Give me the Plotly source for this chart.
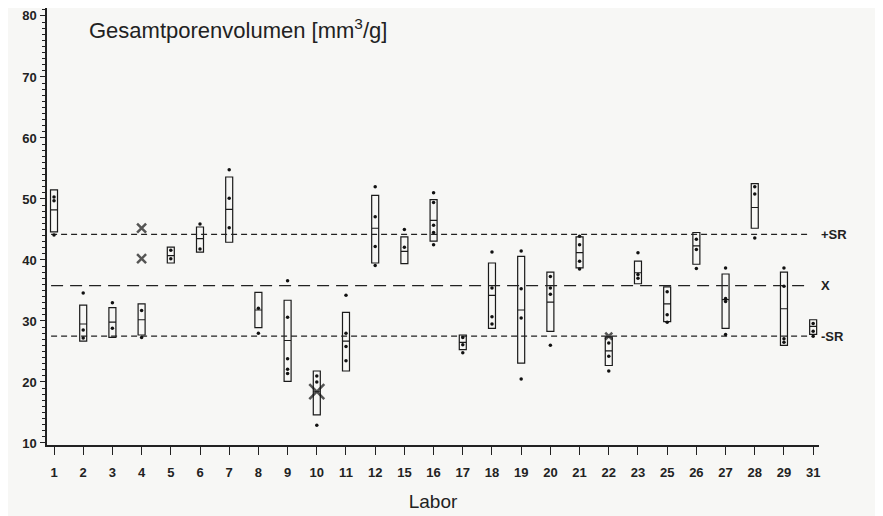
import plotly.graph_objects as go

labs = ["1","2","3","4","5","6","7","8","9","10","11","12","15","16","17","18","19","20","21","22","23","25","26","27","28","29","31"]
box_low = [44.6,26.7,27.3,27.7,39.5,41.3,42.9,28.9,20.1,14.6,21.8,39.5,39.4,43.1,25.3,28.8,23.1,28.3,38.7,22.7,36.1,29.9,39.3,28.8,45.2,26.0,27.8]
box_med = [48.2,29.5,29.8,30.2,40.7,43.5,48.3,31.8,26.8,18.4,26.7,45.2,41.4,46.5,26.5,34.2,31.8,33.1,41.2,25.1,37.9,32.8,42.3,33.5,48.6,32.0,29.1]
box_high = [51.5,32.6,32.2,32.8,42.1,45.4,53.6,34.7,33.4,21.8,31.4,50.6,43.8,49.9,27.7,39.5,40.6,38.0,43.8,27.4,39.8,35.6,44.5,37.7,52.5,38.0,30.2]

dot_lab = (["1"]*3 + ["2"]*3 + ["3"]*2 + ["4"]*2 + ["5"]*2 + ["6"]*2 + ["7"]*3 + ["8"]*2 +
           ["9"]*5 + ["10"]*3 + ["11"]*4 + ["12"]*4 + ["15"]*2 + ["16"]*5 + ["17"]*3 +
           ["18"]*4 + ["19"]*4 + ["20"]*4 + ["21"]*4 + ["22"]*3 + ["23"]*3 + ["25"]*3 +
           ["26"]*3 + ["27"]*4 + ["28"]*3 + ["29"]*4 + ["31"]*3)
dot_val = [50.3,49.7,44.1, 34.6,28.5,27.2, 33.0,28.8, 31.7,27.3, 41.6,40.2, 45.9,41.8,
           54.8,50.1,45.3, 32.1,28.0, 36.6,30.6,23.8,22.1,21.4, 21.0,20.0,12.9,
           34.2,28.0,25.8,23.5, 52.0,47.1,42.2,39.1, 45.0,42.1, 51.0,49.4,45.7,44.5,42.5,
           27.3,26.1,24.8, 41.3,35.4,30.7,29.5, 41.45,35.3,30.5,20.5, 37.3,35.4,34.4,26.0,
           43.9,42.5,39.8,38.5, 26.4,24.2,21.8, 41.2,37.6,37.0, 34.8,31.0,29.8,
           43.4,41.7,38.6, 38.7,33.7,33.2,27.8, 52.0,50.8,43.6, 38.7,35.7,27.1,26.5,
           29.6,28.3,27.5]

cross_lab = ["4", "4", "22", "10"]
cross_val = [45.2, 40.2, 27.5, 18.4]
cross_size = [9, 9, 7, 15]

mean_x = 35.8
sr_upper = 44.2
sr_lower = 27.5
ref_labels = ["+SR", "X", "-SR"]

pos = {l: i for i, l in enumerate(labs)}
xi = list(range(len(labs)))

fig = go.Figure()

# reference lines
for val, dash in [(sr_upper, "6px,4px"), (mean_x, "12px,7px"), (sr_lower, "6px,4px")]:
    fig.add_trace(go.Scatter(x=[xi[0] - 0.1, xi[-1] - 0.1], y=[val, val], mode="lines",
                             line=dict(color="#222", width=1.3, dash=dash),
                             hoverinfo="skip", showlegend=False))

fig.add_trace(go.Box(x=xi, q1=box_low, median=box_med, q3=box_high,
                     lowerfence=box_low, upperfence=box_high,
                     fillcolor="rgba(255,255,255,0)", line=dict(color="#1a1a1a", width=1.2),
                     width=0.24, whiskerwidth=0, boxpoints=False, showlegend=False))

fig.add_trace(go.Scatter(x=[pos[l] for l in dot_lab], y=dot_val, mode="markers",
                         marker=dict(color="#111", size=3.5), showlegend=False))

fig.add_trace(go.Scatter(x=[pos[l] for l in cross_lab], y=cross_val, mode="markers",
                         marker=dict(symbol="x-thin", size=cross_size, color="#111",
                                     line=dict(color="#111", width=2.5)),
                         showlegend=False))

for txt, val in zip(ref_labels, [sr_upper, mean_x, sr_lower]):
    fig.add_annotation(x=1.0, xref="paper", y=val, yref="y", text=txt, showarrow=False,
                       xanchor="left", xshift=0,
                       font=dict(size=13, color="#222", family="Liberation Sans", weight="bold"))

fig.add_annotation(x=0.052, xref="paper", y=1.0, yref="paper", yshift=-21,
                   text="Gesamtporenvolumen [mm<sup>3</sup>/g]", showarrow=False,
                   xanchor="left", yanchor="middle",
                   font=dict(size=22, color="#222", family="Liberation Sans"))

# the html page body has an 8px margin; size the figure so the window shows it like the reference
fig.update_layout(
    width=875, height=508,
    margin=dict(l=39, r=64, t=0, b=71),
    paper_bgcolor="#f7f7f5", plot_bgcolor="#f7f7f5",
    font=dict(family="Liberation Sans", color="#222"),
    xaxis=dict(range=[-0.24, 26.2], tickvals=xi, ticktext=labs, showgrid=False,
               zeroline=False, showline=True, linecolor="#222", linewidth=1.5,
               ticks="outside", ticklen=8, tickcolor="#222", tickwidth=1.2,
               ticklabelstandoff=7, tickfont=dict(size=13, weight="bold"), automargin=False,
               title=dict(text="Labor", font=dict(size=19), standoff=15)),
    yaxis=dict(range=[9.67, 81.3], tickvals=[10, 20, 30, 40, 50, 60, 70, 80],
               showgrid=False, zeroline=False, showline=True, linecolor="#222", linewidth=1.5,
               ticks="outside", ticklen=5, tickcolor="#222", tickwidth=1.2,
               tickfont=dict(size=13, weight="bold"), ticklabelstandoff=1, automargin=False,
               minor=dict(dtick=1, ticks="outside", ticklen=3, tickcolor="#222", tickwidth=1,
                          showgrid=False)),
)

fig.write_html("out.html")
